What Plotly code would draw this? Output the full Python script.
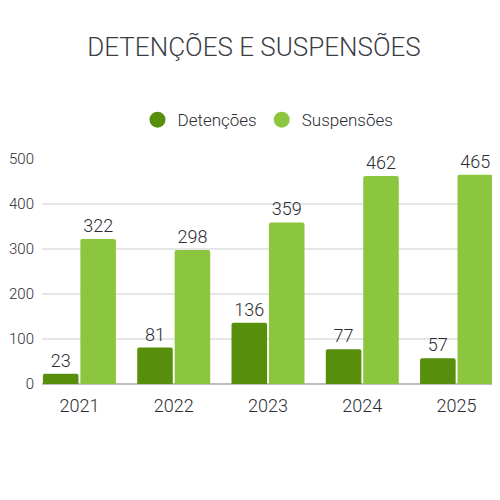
import plotly.graph_objects as go

years = ["2021", "2022", "2023", "2024", "2025"]
detencoes = [23, 81, 136, 77, 57]
suspensoes = [322, 298, 359, 462, 465]
series_names = ["Detenções", "Suspensões"]
colors = ["#578f0c", "#8cc63f"]
yticks = [0, 100, 200, 300, 400, 500]

FONT = "Roboto, sans-serif"
TXT = "#2b2d33"

fig = go.Figure()
for name, vals, col in zip(series_names, [detencoes, suspensoes], colors):
    fig.add_trace(go.Bar(
        x=years, y=vals, name=name, marker=dict(color=col, cornerradius=2, line=dict(width=0)),
        text=[str(v) for v in vals], textposition="outside", cliponaxis=False,
        textfont=dict(family=FONT, size=18, color=TXT, weight=300), showlegend=False,
    ))
for name, col in zip(series_names, colors):
    fig.add_trace(go.Scatter(
        x=[None], y=[None], mode="markers", name=name,
        marker=dict(color=col, size=20, symbol="circle"),
    ))

fig.update_layout(
    width=492, height=492,
    paper_bgcolor="white", plot_bgcolor="white",
    margin=dict(l=34, r=6, t=151, b=115.5),
    barmode="group", bargap=0.206, bargroupgap=0.05,
    title=dict(text="DETENÇÕES E SUSPENSÕES", x=0.5, xanchor="center", y=0.92, yanchor="middle",
               font=dict(family=FONT, size=26, color="#3a3d45", weight=300)),
    legend=dict(orientation="h", x=0.5, xanchor="center", y=1.173, yanchor="middle",
                font=dict(family=FONT, size=17, color=TXT, weight=300), itemsizing="trace",
                itemwidth=30, tracegroupgap=0),
    xaxis=dict(type="category", range=[-0.397, 4.397], showgrid=False, showline=False,
               ticks="outside", ticklen=5, tickcolor="rgba(0,0,0,0)", automargin=False,
               tickfont=dict(family=FONT, size=18, color=TXT, weight=300)),
    yaxis=dict(range=[0, 500], tickvals=yticks, showgrid=True, gridcolor="#e6e6e6", gridwidth=2,
               zeroline=True, zerolinecolor="#bdbdbd", zerolinewidth=2, automargin=False,
               ticks="outside", ticklen=4, tickcolor="rgba(0,0,0,0)",
               tickfont=dict(family=FONT, size=15, color=TXT, weight=300)),
)

fig.write_html("out.html")
